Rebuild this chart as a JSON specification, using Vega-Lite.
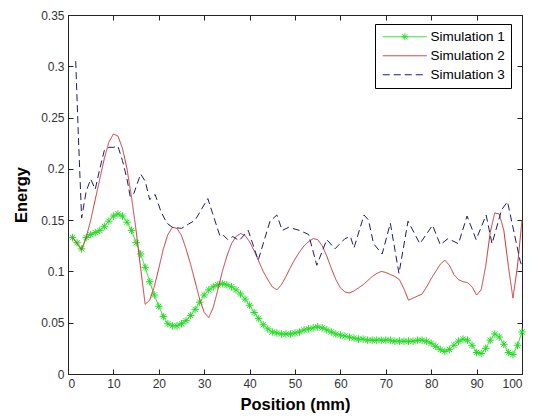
{
  "$schema": "https://vega.github.io/schema/vega-lite/v6.json",
  "width": 454,
  "height": 359,
  "autosize": "none",
  "padding": {"left": 68, "top": 15, "right": 13, "bottom": 43},
  "background": "white",
  "config": {
    "view": {"stroke": "#222222", "strokeWidth": 1},
    "font": "Liberation Sans",
    "axis": {
      "grid": false,
      "domain": false,
      "tickColor": "#222222",
      "tickSize": -5,
      "labelFont": "Liberation Sans",
      "labelFontSize": 12,
      "labelColor": "#333333",
      "titleFont": "Liberation Sans",
      "titleFontSize": 16.5,
      "titleFontWeight": "bold",
      "titleColor": "#000000"
    }
  },
  "datasets": {
    "sims": [
      {"x": 1, "y": 0.133, "s": "Simulation 1"}, {"x": 2, "y": 0.128, "s": "Simulation 1"}, {"x": 3, "y": 0.122, "s": "Simulation 1"}, {"x": 4, "y": 0.133, "s": "Simulation 1"}, {"x": 5, "y": 0.136, "s": "Simulation 1"},
      {"x": 6, "y": 0.138, "s": "Simulation 1"}, {"x": 7, "y": 0.140, "s": "Simulation 1"}, {"x": 8, "y": 0.144, "s": "Simulation 1"}, {"x": 9, "y": 0.149, "s": "Simulation 1"}, {"x": 10, "y": 0.154, "s": "Simulation 1"},
      {"x": 11, "y": 0.156, "s": "Simulation 1"}, {"x": 12, "y": 0.154, "s": "Simulation 1"}, {"x": 13, "y": 0.148, "s": "Simulation 1"}, {"x": 14, "y": 0.140, "s": "Simulation 1"}, {"x": 15, "y": 0.128, "s": "Simulation 1"},
      {"x": 16, "y": 0.117, "s": "Simulation 1"}, {"x": 17, "y": 0.104, "s": "Simulation 1"}, {"x": 18, "y": 0.090, "s": "Simulation 1"}, {"x": 19, "y": 0.077, "s": "Simulation 1"}, {"x": 20, "y": 0.066, "s": "Simulation 1"},
      {"x": 21, "y": 0.056, "s": "Simulation 1"}, {"x": 22, "y": 0.049, "s": "Simulation 1"}, {"x": 23, "y": 0.047, "s": "Simulation 1"}, {"x": 24, "y": 0.047, "s": "Simulation 1"}, {"x": 25, "y": 0.049, "s": "Simulation 1"},
      {"x": 26, "y": 0.052, "s": "Simulation 1"}, {"x": 27, "y": 0.057, "s": "Simulation 1"}, {"x": 28, "y": 0.063, "s": "Simulation 1"}, {"x": 29, "y": 0.070, "s": "Simulation 1"}, {"x": 30, "y": 0.077, "s": "Simulation 1"},
      {"x": 31, "y": 0.082, "s": "Simulation 1"}, {"x": 32, "y": 0.085, "s": "Simulation 1"}, {"x": 33, "y": 0.087, "s": "Simulation 1"}, {"x": 34, "y": 0.088, "s": "Simulation 1"}, {"x": 35, "y": 0.087, "s": "Simulation 1"},
      {"x": 36, "y": 0.085, "s": "Simulation 1"}, {"x": 37, "y": 0.082, "s": "Simulation 1"}, {"x": 38, "y": 0.078, "s": "Simulation 1"}, {"x": 39, "y": 0.073, "s": "Simulation 1"}, {"x": 40, "y": 0.067, "s": "Simulation 1"},
      {"x": 41, "y": 0.060, "s": "Simulation 1"}, {"x": 42, "y": 0.054, "s": "Simulation 1"}, {"x": 43, "y": 0.048, "s": "Simulation 1"}, {"x": 44, "y": 0.044, "s": "Simulation 1"}, {"x": 45, "y": 0.041, "s": "Simulation 1"},
      {"x": 46, "y": 0.040, "s": "Simulation 1"}, {"x": 47, "y": 0.039, "s": "Simulation 1"}, {"x": 48, "y": 0.039, "s": "Simulation 1"}, {"x": 49, "y": 0.039, "s": "Simulation 1"}, {"x": 50, "y": 0.040, "s": "Simulation 1"},
      {"x": 51, "y": 0.041, "s": "Simulation 1"}, {"x": 52, "y": 0.043, "s": "Simulation 1"}, {"x": 53, "y": 0.044, "s": "Simulation 1"}, {"x": 54, "y": 0.045, "s": "Simulation 1"}, {"x": 55, "y": 0.046, "s": "Simulation 1"},
      {"x": 56, "y": 0.045, "s": "Simulation 1"}, {"x": 57, "y": 0.043, "s": "Simulation 1"}, {"x": 58, "y": 0.041, "s": "Simulation 1"}, {"x": 59, "y": 0.039, "s": "Simulation 1"}, {"x": 60, "y": 0.038, "s": "Simulation 1"},
      {"x": 61, "y": 0.037, "s": "Simulation 1"}, {"x": 62, "y": 0.036, "s": "Simulation 1"}, {"x": 63, "y": 0.035, "s": "Simulation 1"}, {"x": 64, "y": 0.034, "s": "Simulation 1"}, {"x": 65, "y": 0.034, "s": "Simulation 1"},
      {"x": 66, "y": 0.033, "s": "Simulation 1"}, {"x": 67, "y": 0.033, "s": "Simulation 1"}, {"x": 68, "y": 0.033, "s": "Simulation 1"}, {"x": 69, "y": 0.033, "s": "Simulation 1"}, {"x": 70, "y": 0.033, "s": "Simulation 1"},
      {"x": 71, "y": 0.033, "s": "Simulation 1"}, {"x": 72, "y": 0.032, "s": "Simulation 1"}, {"x": 73, "y": 0.032, "s": "Simulation 1"}, {"x": 74, "y": 0.032, "s": "Simulation 1"}, {"x": 75, "y": 0.032, "s": "Simulation 1"},
      {"x": 76, "y": 0.032, "s": "Simulation 1"}, {"x": 77, "y": 0.033, "s": "Simulation 1"}, {"x": 78, "y": 0.033, "s": "Simulation 1"}, {"x": 79, "y": 0.032, "s": "Simulation 1"}, {"x": 80, "y": 0.030, "s": "Simulation 1"},
      {"x": 81, "y": 0.027, "s": "Simulation 1"}, {"x": 82, "y": 0.024, "s": "Simulation 1"}, {"x": 83, "y": 0.022, "s": "Simulation 1"}, {"x": 84, "y": 0.024, "s": "Simulation 1"}, {"x": 85, "y": 0.028, "s": "Simulation 1"},
      {"x": 86, "y": 0.032, "s": "Simulation 1"}, {"x": 87, "y": 0.034, "s": "Simulation 1"}, {"x": 88, "y": 0.033, "s": "Simulation 1"}, {"x": 89, "y": 0.028, "s": "Simulation 1"}, {"x": 90, "y": 0.021, "s": "Simulation 1"},
      {"x": 91, "y": 0.020, "s": "Simulation 1"}, {"x": 92, "y": 0.025, "s": "Simulation 1"}, {"x": 93, "y": 0.033, "s": "Simulation 1"}, {"x": 94, "y": 0.039, "s": "Simulation 1"}, {"x": 95, "y": 0.036, "s": "Simulation 1"},
      {"x": 96, "y": 0.029, "s": "Simulation 1"}, {"x": 97, "y": 0.021, "s": "Simulation 1"}, {"x": 98, "y": 0.019, "s": "Simulation 1"}, {"x": 99, "y": 0.028, "s": "Simulation 1"}, {"x": 100, "y": 0.041, "s": "Simulation 1"},

      {"x": 1, "y": 0.133, "s": "Simulation 2"}, {"x": 2, "y": 0.127, "s": "Simulation 2"}, {"x": 3, "y": 0.121, "s": "Simulation 2"}, {"x": 4, "y": 0.133, "s": "Simulation 2"}, {"x": 5, "y": 0.150, "s": "Simulation 2"},
      {"x": 6, "y": 0.170, "s": "Simulation 2"}, {"x": 7, "y": 0.190, "s": "Simulation 2"}, {"x": 8, "y": 0.210, "s": "Simulation 2"}, {"x": 9, "y": 0.226, "s": "Simulation 2"}, {"x": 10, "y": 0.234, "s": "Simulation 2"},
      {"x": 11, "y": 0.232, "s": "Simulation 2"}, {"x": 12, "y": 0.220, "s": "Simulation 2"}, {"x": 13, "y": 0.200, "s": "Simulation 2"}, {"x": 14, "y": 0.172, "s": "Simulation 2"}, {"x": 15, "y": 0.140, "s": "Simulation 2"},
      {"x": 16, "y": 0.103, "s": "Simulation 2"}, {"x": 17, "y": 0.068, "s": "Simulation 2"}, {"x": 18, "y": 0.072, "s": "Simulation 2"}, {"x": 19, "y": 0.085, "s": "Simulation 2"}, {"x": 20, "y": 0.103, "s": "Simulation 2"},
      {"x": 21, "y": 0.122, "s": "Simulation 2"}, {"x": 22, "y": 0.136, "s": "Simulation 2"}, {"x": 23, "y": 0.143, "s": "Simulation 2"}, {"x": 24, "y": 0.142, "s": "Simulation 2"}, {"x": 25, "y": 0.135, "s": "Simulation 2"},
      {"x": 26, "y": 0.122, "s": "Simulation 2"}, {"x": 27, "y": 0.107, "s": "Simulation 2"}, {"x": 28, "y": 0.090, "s": "Simulation 2"}, {"x": 29, "y": 0.073, "s": "Simulation 2"}, {"x": 30, "y": 0.060, "s": "Simulation 2"},
      {"x": 31, "y": 0.055, "s": "Simulation 2"}, {"x": 32, "y": 0.065, "s": "Simulation 2"}, {"x": 33, "y": 0.082, "s": "Simulation 2"}, {"x": 34, "y": 0.100, "s": "Simulation 2"}, {"x": 35, "y": 0.115, "s": "Simulation 2"},
      {"x": 36, "y": 0.127, "s": "Simulation 2"}, {"x": 37, "y": 0.134, "s": "Simulation 2"}, {"x": 38, "y": 0.137, "s": "Simulation 2"}, {"x": 39, "y": 0.135, "s": "Simulation 2"}, {"x": 40, "y": 0.129, "s": "Simulation 2"},
      {"x": 41, "y": 0.120, "s": "Simulation 2"}, {"x": 42, "y": 0.110, "s": "Simulation 2"}, {"x": 43, "y": 0.100, "s": "Simulation 2"}, {"x": 44, "y": 0.092, "s": "Simulation 2"}, {"x": 45, "y": 0.085, "s": "Simulation 2"},
      {"x": 46, "y": 0.082, "s": "Simulation 2"}, {"x": 47, "y": 0.087, "s": "Simulation 2"}, {"x": 48, "y": 0.095, "s": "Simulation 2"}, {"x": 49, "y": 0.104, "s": "Simulation 2"}, {"x": 50, "y": 0.112, "s": "Simulation 2"},
      {"x": 51, "y": 0.119, "s": "Simulation 2"}, {"x": 52, "y": 0.125, "s": "Simulation 2"}, {"x": 53, "y": 0.129, "s": "Simulation 2"}, {"x": 54, "y": 0.132, "s": "Simulation 2"}, {"x": 55, "y": 0.131, "s": "Simulation 2"},
      {"x": 56, "y": 0.125, "s": "Simulation 2"}, {"x": 57, "y": 0.115, "s": "Simulation 2"}, {"x": 58, "y": 0.103, "s": "Simulation 2"}, {"x": 59, "y": 0.092, "s": "Simulation 2"}, {"x": 60, "y": 0.084, "s": "Simulation 2"},
      {"x": 61, "y": 0.080, "s": "Simulation 2"}, {"x": 62, "y": 0.079, "s": "Simulation 2"}, {"x": 63, "y": 0.081, "s": "Simulation 2"}, {"x": 64, "y": 0.084, "s": "Simulation 2"}, {"x": 65, "y": 0.087, "s": "Simulation 2"},
      {"x": 66, "y": 0.091, "s": "Simulation 2"}, {"x": 67, "y": 0.095, "s": "Simulation 2"}, {"x": 68, "y": 0.098, "s": "Simulation 2"}, {"x": 69, "y": 0.100, "s": "Simulation 2"}, {"x": 70, "y": 0.099, "s": "Simulation 2"},
      {"x": 71, "y": 0.097, "s": "Simulation 2"}, {"x": 72, "y": 0.095, "s": "Simulation 2"}, {"x": 73, "y": 0.092, "s": "Simulation 2"}, {"x": 74, "y": 0.083, "s": "Simulation 2"}, {"x": 75, "y": 0.072, "s": "Simulation 2"},
      {"x": 76, "y": 0.074, "s": "Simulation 2"}, {"x": 77, "y": 0.076, "s": "Simulation 2"}, {"x": 78, "y": 0.078, "s": "Simulation 2"}, {"x": 79, "y": 0.085, "s": "Simulation 2"}, {"x": 80, "y": 0.093, "s": "Simulation 2"},
      {"x": 81, "y": 0.100, "s": "Simulation 2"}, {"x": 82, "y": 0.107, "s": "Simulation 2"}, {"x": 83, "y": 0.111, "s": "Simulation 2"}, {"x": 84, "y": 0.106, "s": "Simulation 2"}, {"x": 85, "y": 0.097, "s": "Simulation 2"},
      {"x": 86, "y": 0.092, "s": "Simulation 2"}, {"x": 87, "y": 0.090, "s": "Simulation 2"}, {"x": 88, "y": 0.089, "s": "Simulation 2"}, {"x": 89, "y": 0.085, "s": "Simulation 2"}, {"x": 90, "y": 0.077, "s": "Simulation 2"},
      {"x": 91, "y": 0.082, "s": "Simulation 2"}, {"x": 92, "y": 0.105, "s": "Simulation 2"}, {"x": 93, "y": 0.138, "s": "Simulation 2"}, {"x": 94, "y": 0.157, "s": "Simulation 2"}, {"x": 95, "y": 0.156, "s": "Simulation 2"},
      {"x": 96, "y": 0.140, "s": "Simulation 2"}, {"x": 97, "y": 0.105, "s": "Simulation 2"}, {"x": 98, "y": 0.074, "s": "Simulation 2"}, {"x": 99, "y": 0.105, "s": "Simulation 2"}, {"x": 100, "y": 0.150, "s": "Simulation 2"},

      {"x": 1.7, "y": 0.305, "s": "Simulation 3"}, {"x": 2.3, "y": 0.230, "s": "Simulation 3"}, {"x": 3, "y": 0.152, "s": "Simulation 3"}, {"x": 4, "y": 0.178, "s": "Simulation 3"}, {"x": 5, "y": 0.190, "s": "Simulation 3"},
      {"x": 6, "y": 0.180, "s": "Simulation 3"}, {"x": 7, "y": 0.200, "s": "Simulation 3"}, {"x": 8, "y": 0.218, "s": "Simulation 3"}, {"x": 9, "y": 0.221, "s": "Simulation 3"}, {"x": 10, "y": 0.221, "s": "Simulation 3"},
      {"x": 11, "y": 0.222, "s": "Simulation 3"}, {"x": 12, "y": 0.208, "s": "Simulation 3"}, {"x": 13, "y": 0.190, "s": "Simulation 3"}, {"x": 13.7, "y": 0.173, "s": "Simulation 3"}, {"x": 14.5, "y": 0.176, "s": "Simulation 3"},
      {"x": 16, "y": 0.195, "s": "Simulation 3"}, {"x": 17, "y": 0.188, "s": "Simulation 3"}, {"x": 18, "y": 0.170, "s": "Simulation 3"}, {"x": 19.2, "y": 0.175, "s": "Simulation 3"}, {"x": 20.5, "y": 0.158, "s": "Simulation 3"},
      {"x": 21.8, "y": 0.147, "s": "Simulation 3"}, {"x": 23, "y": 0.143, "s": "Simulation 3"}, {"x": 25, "y": 0.142, "s": "Simulation 3"}, {"x": 26.5, "y": 0.146, "s": "Simulation 3"}, {"x": 28, "y": 0.150, "s": "Simulation 3"},
      {"x": 30.8, "y": 0.171, "s": "Simulation 3"}, {"x": 33.5, "y": 0.134, "s": "Simulation 3"}, {"x": 34.3, "y": 0.135, "s": "Simulation 3"}, {"x": 35.2, "y": 0.131, "s": "Simulation 3"}, {"x": 36.3, "y": 0.134, "s": "Simulation 3"},
      {"x": 37.7, "y": 0.130, "s": "Simulation 3"}, {"x": 39.7, "y": 0.140, "s": "Simulation 3"}, {"x": 41.9, "y": 0.111, "s": "Simulation 3"}, {"x": 44.5, "y": 0.149, "s": "Simulation 3"}, {"x": 46, "y": 0.155, "s": "Simulation 3"},
      {"x": 47.2, "y": 0.140, "s": "Simulation 3"}, {"x": 48.6, "y": 0.143, "s": "Simulation 3"}, {"x": 51, "y": 0.140, "s": "Simulation 3"}, {"x": 53, "y": 0.136, "s": "Simulation 3"}, {"x": 54.8, "y": 0.106, "s": "Simulation 3"},
      {"x": 57, "y": 0.131, "s": "Simulation 3"}, {"x": 58.8, "y": 0.122, "s": "Simulation 3"}, {"x": 61, "y": 0.132, "s": "Simulation 3"}, {"x": 62.2, "y": 0.134, "s": "Simulation 3"}, {"x": 63, "y": 0.123, "s": "Simulation 3"},
      {"x": 65.2, "y": 0.155, "s": "Simulation 3"}, {"x": 66.2, "y": 0.150, "s": "Simulation 3"}, {"x": 67.3, "y": 0.127, "s": "Simulation 3"}, {"x": 69.2, "y": 0.117, "s": "Simulation 3"}, {"x": 71, "y": 0.147, "s": "Simulation 3"},
      {"x": 72.9, "y": 0.098, "s": "Simulation 3"}, {"x": 74.9, "y": 0.149, "s": "Simulation 3"}, {"x": 77.5, "y": 0.127, "s": "Simulation 3"}, {"x": 80.3, "y": 0.145, "s": "Simulation 3"}, {"x": 82, "y": 0.126, "s": "Simulation 3"},
      {"x": 83.7, "y": 0.132, "s": "Simulation 3"}, {"x": 86, "y": 0.127, "s": "Simulation 3"}, {"x": 87.9, "y": 0.154, "s": "Simulation 3"}, {"x": 89.9, "y": 0.131, "s": "Simulation 3"}, {"x": 92.1, "y": 0.155, "s": "Simulation 3"},
      {"x": 93.4, "y": 0.127, "s": "Simulation 3"}, {"x": 95.5, "y": 0.160, "s": "Simulation 3"}, {"x": 96.8, "y": 0.168, "s": "Simulation 3"}, {"x": 99.6, "y": 0.110, "s": "Simulation 3"}, {"x": 100, "y": 0.105, "s": "Simulation 3"}
    ]
  },
  "data": {"name": "sims"},
  "layer": [
    {
      "transform": [{"filter": "datum.s === 'Simulation 1'"}],
      "mark": {
        "type": "point",
        "shape": "M-1,0L1,0M0,-1L0,1M-0.7,-0.7L0.7,0.7M-0.7,0.7L0.7,-0.7",
        "filled": false,
        "size": 56,
        "stroke": "#22dd22",
        "strokeWidth": 1,
        "opacity": 1
      },
      "encoding": {
        "x": {"field": "x", "type": "quantitative", "scale": {"domain": [0, 100], "nice": false, "zero": false},
              "axis": {"orient": "top", "labels": false, "title": null, "values": [0, 10, 20, 30, 40, 50, 60, 70, 80, 90, 100]}},
        "y": {"field": "y", "type": "quantitative", "scale": {"domain": [0, 0.35], "nice": false},
              "axis": {"orient": "right", "labels": false, "title": null, "values": [0, 0.05, 0.1, 0.15, 0.2, 0.25, 0.3, 0.35]}}
      }
    },
    {
      "mark": {"type": "line", "strokeWidth": 1},
      "encoding": {
        "x": {"field": "x", "type": "quantitative",
              "axis": {"orient": "bottom", "title": "Position (mm)", "values": [0, 10, 20, 30, 40, 50, 60, 70, 80, 90, 100], "labelPadding": 9, "titlePadding": 7}},
        "y": {"field": "y", "type": "quantitative",
              "axis": {"orient": "left", "title": "Energy", "values": [0, 0.05, 0.1, 0.15, 0.2, 0.25, 0.3, 0.35], "format": ".2~f", "labelPadding": 9, "titlePadding": 11}},
        "color": {
          "field": "s", "type": "nominal",
          "scale": {"domain": ["Simulation 1", "Simulation 2", "Simulation 3"], "range": ["#22dd22", "#cc3333", "#1c1c70"]},
          "legend": {
            "title": null,
            "orient": "none",
            "legendX": 307,
            "legendY": 9,
            "fillColor": "white",
            "strokeColor": "#000000",
            "cornerRadius": 0,
            "padding": 6,
            "symbolType": "M-1,0L7.8,0",
            "symbolSize": 100,
            "symbolStrokeWidth": 1,
            "labelOffset": 36,
            "labelFont": "Liberation Sans",
            "labelFontSize": 13.5,
            "labelColor": "#000000",
            "rowPadding": 4,
            "encode": {
              "symbols": {
                "update": {
                  "shape": {"signal": "datum.value === 'Simulation 1' ? 'M-1,0L7.8,0M2.7,0L4.1,0M3.4,-0.7L3.4,0.7M2.9,-0.5L3.9,0.5M2.9,0.5L3.9,-0.5' : 'M-1,0L7.8,0'"},
                  "strokeDash": {"signal": "datum.value === 'Simulation 3' ? [7, 4] : [1, 0]"}
                }
              }
            }
          }
        },
        "strokeDash": {
          "field": "s", "type": "nominal",
          "scale": {"domain": ["Simulation 1", "Simulation 2", "Simulation 3"], "range": [[1, 0], [1, 0], [7, 4]]},
          "legend": null
        }
      }
    }
  ],
  "resolve": {"axis": {"x": "independent", "y": "independent"}}
}
